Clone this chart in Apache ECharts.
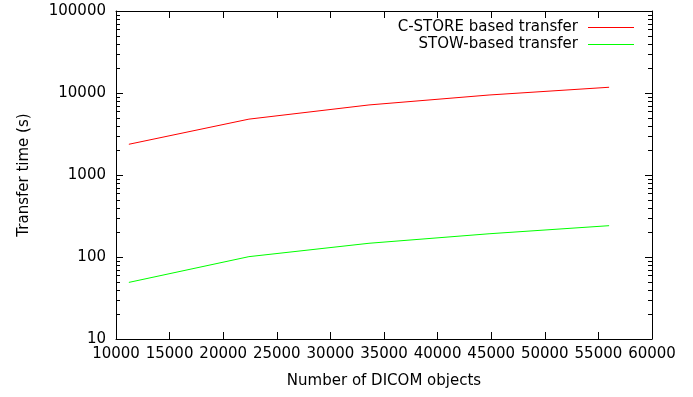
<!DOCTYPE html>
<html>
<head>
<meta charset="utf-8">
<script src="https://cdn.jsdelivr.net/npm/echarts@6/dist/echarts.min.js"></script>
<style>
html,body{margin:0;padding:0;background:#fff;}
#c{width:693px;height:397px;}
</style>
</head>
<body>
<div id="c"></div>
<script>
var objects = [11200, 22400, 33600, 44800, 56000];
var cstoreTimes = [2370, 4800, 7150, 9450, 11750];
var stowTimes = [49, 101, 147, 192, 241];
var seriesNames = ['C-STORE based transfer', 'STOW-based transfer'];
var xTitle = 'Number of DICOM objects';
var yTitle = 'Transfer time (s)';
var minorMultipliers = [2, 3, 4, 5, 6, 7, 8, 9];
var decades = [10, 100, 1000, 10000];

var FONT = 'DejaVu Sans';
function pairs(xs, ys) { return xs.map(function (x, i) { return [x, ys[i]]; }); }
function plain(v) { return String(Math.round(v)); }

var chart = echarts.init(document.getElementById('c'), null, {renderer: 'canvas'});
var axisLine = {show: true, lineStyle: {color: '#000', width: 1}};
var option = {
  animation: false,
  backgroundColor: '#fff',
  grid: {left: 116, right: 41, top: 11, bottom: 58, containLabel: false},
  legend: {
    orient: 'vertical',
    align: 'right',
    right: 54,
    top: 14,
    icon: 'rect',
    itemWidth: 46,
    itemHeight: 1,
    itemGap: 0,
    textStyle: {fontFamily: FONT, fontSize: 15, color: '#000', padding: [0, 5, 0, 0], lineHeight: 17},
    data: [
      {name: seriesNames[0], itemStyle: {color: '#ff0000'}},
      {name: seriesNames[1], itemStyle: {color: '#00ff00'}}
    ]
  },
  xAxis: [{
    type: 'value', min: 10000, max: 60000, interval: 5000, position: 'bottom',
    name: xTitle, nameLocation: 'middle', nameGap: 35,
    nameTextStyle: {fontFamily: FONT, fontSize: 15, color: '#000'},
    axisLine: axisLine,
    axisTick: {show: true, inside: true, length: 7, lineStyle: {color: '#000'}},
    axisLabel: {fontFamily: FONT, fontSize: 15, color: '#000', margin: 8, formatter: plain, showMinLabel: true, showMaxLabel: true},
    splitLine: {show: false}
  }, {
    type: 'value', min: 10000, max: 60000, interval: 5000, position: 'top',
    axisLine: axisLine,
    axisTick: {show: true, inside: true, length: 7, lineStyle: {color: '#000'}},
    axisLabel: {show: false},
    splitLine: {show: false}
  }],
  yAxis: [{
    type: 'log', logBase: 10, min: 10, max: 100000, position: 'left',
    name: yTitle, nameLocation: 'middle', nameGap: 84,
    nameTextStyle: {fontFamily: FONT, fontSize: 15, color: '#000'},
    axisLine: axisLine,
    axisTick: {show: true, inside: true, length: 7, lineStyle: {color: '#000'}},
    axisLabel: {fontFamily: FONT, fontSize: 15, color: '#000', margin: 10, formatter: plain},
    splitLine: {show: false}
  }, {
    type: 'log', logBase: 10, min: 10, max: 100000, position: 'right',
    axisLine: axisLine,
    axisTick: {show: true, inside: true, length: 7, lineStyle: {color: '#000'}},
    axisLabel: {show: false},
    splitLine: {show: false}
  }],
  series: [{
    name: seriesNames[0], type: 'line', symbol: 'none', showSymbol: false,
    data: pairs(objects, cstoreTimes),
    lineStyle: {color: '#ff0000', width: 1}, itemStyle: {color: '#ff0000'}
  }, {
    name: seriesNames[1], type: 'line', symbol: 'none', showSymbol: false,
    data: pairs(objects, stowTimes),
    lineStyle: {color: '#00ff00', width: 1}, itemStyle: {color: '#00ff00'}
  }]
};
chart.setOption(option);

// gnuplot-style minor ticks on the log axes, positioned through the axis scale
var graphics = [];
var xl = chart.convertToPixel({xAxisIndex: 0}, 10000);
var xr = chart.convertToPixel({xAxisIndex: 0}, 60000);
decades.forEach(function (d) {
  minorMultipliers.forEach(function (m) {
    var y = Math.round(chart.convertToPixel({yAxisIndex: 0}, m * d)) + 0.5;
    graphics.push({type: 'line', shape: {x1: xl, y1: y, x2: xl + 4, y2: y}, style: {stroke: '#000', lineWidth: 1}, silent: true});
    graphics.push({type: 'line', shape: {x1: xr, y1: y, x2: xr - 4, y2: y}, style: {stroke: '#000', lineWidth: 1}, silent: true});
  });
});
chart.setOption({graphic: graphics});
</script>
</body>
</html>
